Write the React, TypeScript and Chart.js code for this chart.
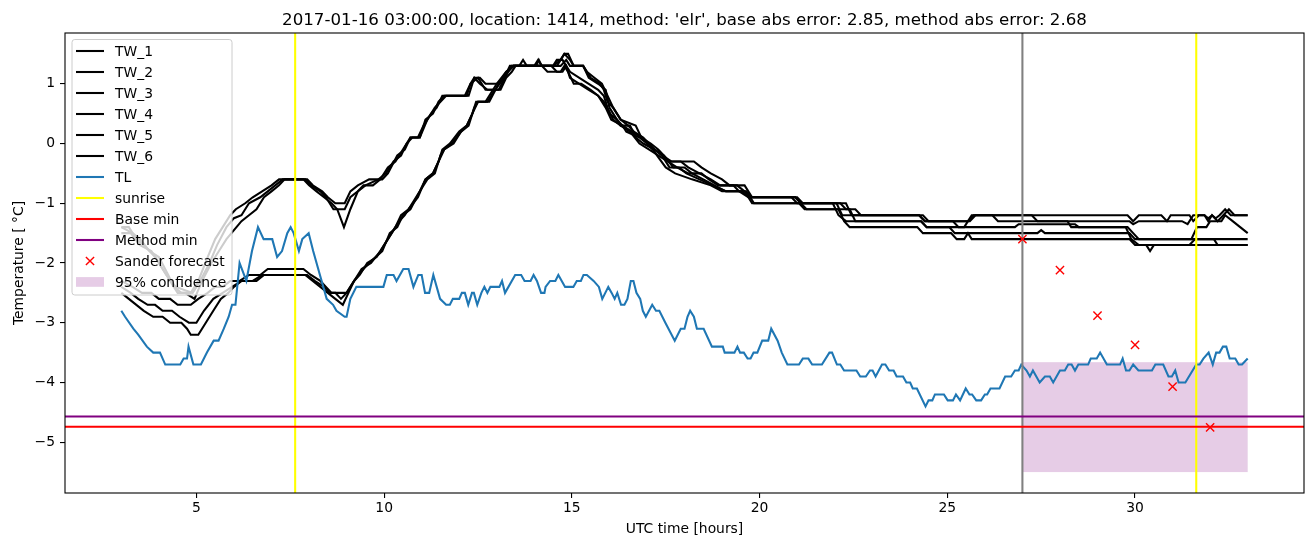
import React, { useEffect, useRef } from "react";
import { Chart, registerables } from "chart.js";

Chart.register(...registerables);

const TITLE =
  "2017-01-16 03:00:00, location: 1414, method: 'elr', base abs error: 2.85, method abs error: 2.68";
const X_LABEL = "UTC time [hours]";
const Y_LABEL = "Temperature [ °C]";
const X_TICKS = [5, 10, 15, 20, 25, 30];
const Y_TICKS = [-5, -4, -3, -2, -1, 0, 1];
const X_MIN = 1.5;
const X_MAX = 34.5;
const Y_MIN = -5.85;
const Y_MAX = 1.85;

// [hour, temperature] knots
const TW_1: [number, number][] = [
  [3.0,-1.4],[3.2,-1.4],[3.4,-1.6],[3.6,-1.7],[3.9,-1.9],[4.1,-2.1],[4.3,-2.3],[4.5,-2.5],[4.7,-2.5],[4.95,-2.6],[5.15,-2.3],[5.4,-2.0],[5.6,-1.8],[5.8,-1.6],[6.0,-1.45],[6.2,-1.3],[6.4,-1.2],[6.6,-1.1],[6.8,-0.9],[7.0,-0.8],[7.2,-0.7],[7.35,-0.6],[7.85,-0.6],[8.0,-0.7],[8.2,-0.8],[8.4,-0.9],[8.6,-1.0],[8.75,-1.1],[8.93,-1.4],[9.1,-1.1],[9.3,-0.8],[9.5,-0.7],[9.85,-0.6],[10.05,-0.5],[10.25,-0.3],[10.45,-0.2],[10.6,0.0],[10.75,0.1],[10.95,0.1],[11.1,0.4],[11.3,0.5],[11.45,0.7],[11.6,0.8],[12.2,0.8],[12.3,1.0],[12.5,1.1],[12.6,1.0],[12.7,0.9],[13.1,0.9],[13.25,1.1],[13.4,1.2],[13.5,1.3],[14.6,1.3],[14.8,1.5],[14.95,1.4],[15.05,1.3],[15.3,1.3],[15.45,1.1],[15.7,1.0],[15.9,0.9],[16.0,0.6],[16.1,0.5],[16.3,0.3],[16.55,0.3],[16.7,0.1],[16.9,0.0],[17.2,-0.1],[17.45,-0.2],[17.7,-0.4],[18.0,-0.4],[18.2,-0.5],[18.5,-0.6],[18.8,-0.7],[19.1,-0.8],[19.5,-0.8],[19.75,-0.9],[21.0,-0.9],[21.15,-1.0],[22.05,-1.0],[22.2,-1.2],[24.25,-1.2],[24.4,-1.3],[25.55,-1.3],[25.7,-1.2],[27.25,-1.2],[27.4,-1.3],[29.85,-1.3],[29.95,-1.35],[30.1,-1.3],[31.25,-1.3],[31.4,-1.35],[31.55,-1.2],[31.85,-1.2],[31.95,-1.25],[32.05,-1.2],[32.15,-1.25],[32.25,-1.2],[32.4,-1.1],[32.55,-1.2],[33.0,-1.2]
];
const TW_2: [number, number][] = [
  [3.0,-1.5],[3.25,-1.5],[3.5,-1.7],[3.8,-1.8],[4.0,-2.0],[4.2,-2.2],[4.45,-2.4],[4.9,-2.5],[5.1,-2.3],[5.35,-2.0],[5.55,-1.7],[5.8,-1.4],[6.0,-1.25],[6.2,-1.2],[6.4,-1.0],[6.7,-0.9],[6.9,-0.8],[7.1,-0.7],[7.3,-0.6],[7.9,-0.6],[8.05,-0.7],[8.3,-0.8],[8.45,-0.9],[8.65,-1.1],[8.95,-1.1],[9.1,-0.9],[9.3,-0.8],[9.45,-0.7],[9.7,-0.7],[9.9,-0.6],[10.1,-0.4],[10.3,-0.3],[10.5,-0.1],[10.7,0.1],[10.9,0.1],[11.05,0.3],[11.25,0.5],[11.4,0.6],[11.55,0.8],[12.25,0.8],[12.4,1.1],[12.55,1.1],[12.7,1.0],[13.0,1.0],[13.2,1.1],[13.35,1.3],[13.6,1.3],[13.7,1.4],[13.8,1.3],[14.05,1.3],[14.12,1.4],[14.2,1.3],[14.7,1.3],[14.85,1.4],[14.95,1.3],[15.3,1.3],[15.5,1.1],[15.75,1.0],[15.85,0.9],[15.95,0.7],[16.1,0.6],[16.3,0.4],[16.7,0.3],[16.85,0.1],[17.1,0.0],[17.3,-0.1],[17.6,-0.3],[18.25,-0.3],[18.45,-0.4],[18.7,-0.5],[19.0,-0.6],[19.2,-0.7],[19.6,-0.7],[19.8,-0.9],[20.95,-0.9],[21.1,-1.0],[22.3,-1.0],[22.45,-1.2],[24.35,-1.2],[24.5,-1.3],[25.6,-1.3],[25.75,-1.2],[26.2,-1.2],[26.35,-1.3],[28.2,-1.3],[28.3,-1.4],[29.8,-1.4],[29.95,-1.5],[30.1,-1.6],[31.5,-1.6],[31.65,-1.4],[31.9,-1.4],[32.0,-1.3],[32.3,-1.3],[32.4,-1.2],[32.6,-1.3],[32.8,-1.4],[33.0,-1.5]
];
const TW_3: [number, number][] = [
  [3.0,-1.4],[3.3,-1.5],[3.5,-1.6],[3.75,-1.8],[4.0,-1.9],[4.25,-2.2],[4.4,-2.4],[4.6,-2.5],[4.85,-2.5],[5.05,-2.3],[5.3,-1.9],[5.5,-1.6],[5.7,-1.4],[5.9,-1.2],[6.05,-1.1],[6.3,-1.0],[6.5,-0.9],[6.75,-0.8],[7.0,-0.7],[7.2,-0.6],[7.95,-0.6],[8.1,-0.7],[8.35,-0.8],[8.5,-0.9],[8.7,-1.0],[8.95,-1.0],[9.1,-0.8],[9.3,-0.7],[9.6,-0.6],[9.95,-0.6],[10.1,-0.5],[10.35,-0.2],[10.55,-0.1],[10.7,0.1],[10.95,0.1],[11.15,0.4],[11.35,0.6],[11.5,0.7],[11.65,0.8],[12.15,0.8],[12.3,1.0],[12.4,1.1],[12.55,1.0],[12.75,0.9],[13.05,0.9],[13.3,1.2],[13.45,1.3],[14.0,1.3],[14.1,1.4],[14.2,1.3],[14.5,1.3],[14.7,1.4],[14.8,1.5],[14.9,1.5],[15.05,1.3],[15.3,1.3],[15.4,1.2],[15.6,1.1],[15.8,1.0],[15.95,0.8],[16.1,0.6],[16.3,0.4],[16.5,0.3],[16.65,0.2],[16.9,0.1],[17.2,-0.1],[17.4,-0.2],[17.65,-0.3],[17.9,-0.3],[18.1,-0.4],[18.4,-0.5],[18.7,-0.6],[18.95,-0.7],[19.3,-0.7],[19.45,-0.8],[19.7,-0.9],[20.95,-0.9],[21.1,-1.0],[22.15,-1.0],[22.3,-1.1],[22.55,-1.1],[22.7,-1.2],[24.25,-1.2],[24.4,-1.3],[25.15,-1.3],[25.3,-1.4],[25.45,-1.4],[25.65,-1.2],[29.8,-1.2],[29.95,-1.3],[30.1,-1.2],[30.7,-1.2],[30.85,-1.3],[30.95,-1.2],[31.45,-1.2],[31.55,-1.3],[31.7,-1.2],[31.85,-1.2],[31.95,-1.3],[32.05,-1.2],[32.2,-1.3],[32.35,-1.2],[32.5,-1.1],[32.65,-1.2],[33.0,-1.2]
];
const TW_4: [number, number][] = [
  [3.0,-2.5],[3.2,-2.6],[3.4,-2.7],[3.6,-2.8],[3.85,-2.9],[4.1,-2.9],[4.3,-3.0],[4.6,-3.0],[4.75,-3.1],[4.85,-3.2],[5.05,-3.2],[5.25,-3.0],[5.45,-2.8],[5.65,-2.6],[5.85,-2.5],[6.0,-2.4],[6.2,-2.3],[6.6,-2.3],[6.8,-2.2],[7.9,-2.2],[8.1,-2.3],[8.3,-2.4],[8.5,-2.5],[8.7,-2.6],[8.9,-2.7],[9.05,-2.5],[9.2,-2.3],[9.4,-2.1],[9.65,-2.0],[9.9,-1.8],[10.1,-1.6],[10.3,-1.4],[10.45,-1.2],[10.65,-1.1],[10.9,-0.9],[11.1,-0.6],[11.3,-0.5],[11.45,-0.3],[11.55,-0.1],[11.75,0.0],[12.0,0.2],[12.2,0.3],[12.35,0.5],[12.45,0.7],[12.75,0.7],[12.95,0.9],[13.2,1.1],[13.4,1.3],[14.45,1.3],[14.6,1.2],[14.75,1.2],[14.85,1.3],[14.95,1.1],[15.2,1.0],[15.45,0.9],[15.7,0.8],[15.9,0.6],[16.05,0.4],[16.35,0.3],[16.45,0.2],[16.8,0.1],[17.0,0.0],[17.15,-0.1],[17.5,-0.4],[17.75,-0.5],[18.2,-0.6],[18.7,-0.7],[19.0,-0.8],[19.6,-0.8],[19.8,-1.0],[21.05,-1.0],[21.2,-1.1],[22.4,-1.1],[22.55,-1.3],[24.3,-1.3],[24.45,-1.4],[25.05,-1.4],[25.2,-1.5],[27.4,-1.5],[27.5,-1.45],[27.6,-1.5],[29.85,-1.5],[30.0,-1.6],[33.0,-1.6]
];
const TW_5: [number, number][] = [
  [3.0,-2.4],[3.25,-2.5],[3.45,-2.6],[3.7,-2.7],[3.9,-2.7],[4.1,-2.8],[4.35,-2.8],[4.55,-2.9],[4.8,-3.0],[5.0,-3.0],[5.2,-2.8],[5.45,-2.6],[5.7,-2.5],[5.95,-2.4],[6.2,-2.3],[6.5,-2.3],[6.75,-2.2],[7.95,-2.2],[8.15,-2.3],[8.4,-2.4],[8.55,-2.5],[8.7,-2.5],[8.85,-2.6],[9.0,-2.5],[9.2,-2.3],[9.45,-2.1],[9.6,-2.0],[9.95,-1.8],[10.15,-1.5],[10.35,-1.4],[10.5,-1.2],[10.7,-1.1],[10.95,-0.8],[11.15,-0.6],[11.35,-0.5],[11.5,-0.2],[11.6,-0.1],[11.8,0.0],[12.05,0.2],[12.25,0.3],[12.4,0.6],[12.5,0.7],[12.7,0.7],[13.0,1.0],[13.25,1.2],[13.45,1.3],[14.2,1.3],[14.35,1.2],[14.7,1.2],[14.8,1.3],[14.9,1.2],[15.05,1.0],[15.25,1.0],[15.5,0.9],[15.7,0.8],[15.85,0.7],[16.0,0.5],[16.2,0.4],[16.35,0.3],[16.6,0.2],[16.85,0.1],[17.2,-0.1],[17.4,-0.2],[17.6,-0.4],[17.85,-0.4],[18.05,-0.5],[18.4,-0.6],[18.75,-0.7],[19.1,-0.8],[19.65,-0.8],[19.85,-1.0],[21.1,-1.0],[21.25,-1.1],[22.1,-1.1],[22.25,-1.3],[22.4,-1.4],[24.2,-1.4],[24.35,-1.5],[25.1,-1.5],[25.25,-1.6],[25.45,-1.6],[25.55,-1.5],[25.65,-1.6],[29.85,-1.6],[30.0,-1.7],[30.3,-1.7],[30.4,-1.8],[30.5,-1.7],[33.0,-1.7]
];
const TW_6: [number, number][] = [
  [3.0,-2.3],[3.3,-2.4],[3.55,-2.5],[3.8,-2.5],[4.0,-2.6],[4.3,-2.6],[4.5,-2.7],[4.85,-2.7],[5.05,-2.6],[5.3,-2.5],[5.5,-2.4],[5.7,-2.4],[5.9,-2.3],[6.15,-2.3],[6.4,-2.2],[6.7,-2.2],[6.9,-2.1],[7.85,-2.1],[8.05,-2.2],[8.3,-2.3],[8.45,-2.4],[8.6,-2.5],[9.0,-2.5],[9.2,-2.3],[9.35,-2.2],[9.55,-2.0],[9.8,-1.9],[10.0,-1.7],[10.2,-1.5],[10.4,-1.3],[10.55,-1.2],[10.75,-1.0],[10.95,-0.8],[11.1,-0.6],[11.3,-0.5],[11.45,-0.3],[11.6,-0.1],[11.85,0.0],[12.05,0.2],[12.2,0.3],[12.35,0.5],[12.5,0.7],[12.8,0.7],[13.05,1.0],[13.25,1.2],[13.45,1.3],[14.5,1.3],[14.6,1.4],[14.75,1.4],[14.85,1.3],[14.95,1.2],[15.2,1.1],[15.45,1.0],[15.7,0.9],[15.85,0.8],[15.95,0.6],[16.1,0.4],[16.3,0.3],[16.55,0.2],[16.8,0.0],[17.05,-0.1],[17.3,-0.2],[17.55,-0.3],[17.8,-0.4],[18.1,-0.5],[18.45,-0.5],[18.65,-0.6],[18.9,-0.7],[19.4,-0.7],[19.6,-0.8],[19.8,-0.9],[20.85,-0.9],[21.0,-1.0],[21.95,-1.0],[22.1,-1.2],[22.3,-1.3],[24.3,-1.3],[24.45,-1.4],[26.8,-1.4],[26.9,-1.35],[28.4,-1.35],[28.5,-1.4],[29.75,-1.4],[29.9,-1.6],[30.1,-1.7],[31.45,-1.7],[31.6,-1.6],[32.1,-1.6],[32.2,-1.7],[33.0,-1.7]
];
const TL: [number, number][] = [
  [3.0,-2.8],[3.1,-2.9],[3.32,-3.1],[3.45,-3.2],[3.68,-3.4],[3.85,-3.5],[4.03,-3.5],[4.17,-3.7],[4.57,-3.7],[4.66,-3.6],[4.75,-3.6],[4.79,-3.4],[4.92,-3.7],[5.12,-3.7],[5.28,-3.5],[5.46,-3.3],[5.59,-3.3],[5.73,-3.1],[5.86,-2.9],[5.95,-2.7],[6.04,-2.7],[6.15,-2.0],[6.33,-2.3],[6.48,-1.8],[6.64,-1.4],[6.79,-1.6],[7.02,-1.6],[7.15,-1.9],[7.28,-1.8],[7.42,-1.5],[7.51,-1.4],[7.59,-1.5],[7.73,-1.8],[7.82,-1.6],[7.99,-1.5],[8.11,-1.8],[8.29,-2.2],[8.47,-2.6],[8.64,-2.7],[8.73,-2.8],[8.95,-2.9],[9.0,-2.9],[9.1,-2.6],[9.26,-2.4],[9.98,-2.4],[10.07,-2.2],[10.25,-2.2],[10.33,-2.3],[10.51,-2.1],[10.65,-2.1],[10.78,-2.4],[10.91,-2.2],[11.0,-2.2],[11.09,-2.5],[11.2,-2.5],[11.31,-2.2],[11.49,-2.6],[11.65,-2.7],[11.75,-2.7],[11.83,-2.6],[12.0,-2.6],[12.07,-2.5],[12.15,-2.5],[12.24,-2.7],[12.34,-2.5],[12.39,-2.5],[12.48,-2.7],[12.59,-2.5],[12.67,-2.4],[12.75,-2.5],[12.83,-2.4],[13.07,-2.4],[13.14,-2.3],[13.22,-2.5],[13.49,-2.2],[13.65,-2.2],[13.74,-2.3],[13.9,-2.3],[13.98,-2.2],[14.07,-2.3],[14.18,-2.5],[14.27,-2.5],[14.3,-2.4],[14.42,-2.3],[14.56,-2.3],[14.64,-2.2],[14.82,-2.4],[15.04,-2.4],[15.13,-2.3],[15.24,-2.3],[15.31,-2.2],[15.4,-2.2],[15.58,-2.3],[15.72,-2.4],[15.81,-2.6],[15.97,-2.4],[16.06,-2.5],[16.14,-2.6],[16.21,-2.5],[16.31,-2.7],[16.4,-2.7],[16.48,-2.6],[16.57,-2.3],[16.64,-2.3],[16.72,-2.5],[16.82,-2.6],[16.89,-2.8],[16.97,-2.9],[17.14,-2.7],[17.24,-2.8],[17.33,-2.8],[17.49,-3.0],[17.74,-3.3],[17.9,-3.1],[18.0,-3.1],[18.08,-2.9],[18.15,-2.8],[18.25,-2.9],[18.33,-3.1],[18.51,-3.1],[18.73,-3.4],[19.02,-3.4],[19.07,-3.5],[19.33,-3.5],[19.41,-3.4],[19.48,-3.5],[19.58,-3.5],[19.68,-3.6],[19.76,-3.6],[19.84,-3.5],[19.94,-3.5],[20.07,-3.3],[20.23,-3.3],[20.31,-3.1],[20.48,-3.3],[20.59,-3.5],[20.74,-3.7],[21.05,-3.7],[21.15,-3.6],[21.3,-3.6],[21.4,-3.7],[21.66,-3.7],[21.86,-3.5],[21.93,-3.5],[22.06,-3.7],[22.15,-3.7],[22.25,-3.8],[22.58,-3.8],[22.68,-3.9],[22.83,-3.9],[22.94,-3.8],[23.01,-3.8],[23.09,-3.9],[23.26,-3.7],[23.35,-3.7],[23.45,-3.8],[23.57,-3.8],[23.65,-3.9],[23.82,-3.9],[23.91,-4.0],[24.01,-4.0],[24.08,-4.1],[24.19,-4.1],[24.42,-4.4],[24.5,-4.3],[24.6,-4.3],[24.67,-4.2],[24.91,-4.2],[25.01,-4.3],[25.15,-4.3],[25.23,-4.2],[25.34,-4.3],[25.49,-4.1],[25.59,-4.2],[25.66,-4.2],[25.77,-4.3],[25.9,-4.3],[26.0,-4.2],[26.06,-4.2],[26.15,-4.1],[26.39,-4.1],[26.54,-3.9],[26.7,-3.9],[26.8,-3.8],[26.9,-3.8],[26.97,-3.7],[27.11,-3.8],[27.2,-3.9],[27.28,-3.8],[27.46,-4.0],[27.6,-3.9],[27.73,-3.9],[27.82,-4.0],[28.0,-3.8],[28.13,-3.8],[28.22,-3.7],[28.31,-3.7],[28.4,-3.8],[28.49,-3.7],[28.75,-3.7],[28.82,-3.6],[28.98,-3.6],[29.07,-3.5],[29.25,-3.7],[29.6,-3.7],[29.67,-3.6],[29.76,-3.8],[29.85,-3.8],[29.95,-3.7],[30.09,-3.8],[30.45,-3.8],[30.54,-3.7],[30.75,-3.7],[30.89,-3.9],[30.98,-3.9],[31.07,-3.8],[31.16,-4.0],[31.34,-4.0],[31.63,-3.7],[31.72,-3.7],[31.82,-3.6],[31.96,-3.5],[32.07,-3.7],[32.16,-3.5],[32.25,-3.5],[32.34,-3.4],[32.43,-3.4],[32.52,-3.6],[32.67,-3.6],[32.76,-3.7],[32.85,-3.7],[33.0,-3.6]
];

const SUNRISE_HOURS = [7.63, 31.63];
const FORECAST_HOUR = 27;
const BASE_MIN = -4.74;
const METHOD_MIN = -4.57;
const SANDER_HOURS = [27, 28, 29, 30, 31, 32];
const SANDER_TEMPS = [-1.6, -2.12, -2.88, -3.37, -4.07, -4.75];
const CONF_HOURS = [27, 33];
const CONF_RANGE = [-5.5, -3.66];

const FONT = "'DejaVu Sans', sans-serif";
const TL_COLOR = "#1f77b4";
const CONF_COLOR = "rgba(128,0,128,0.2)";
const LW = 2.08;
const TW_SERIES = [TW_1, TW_2, TW_3, TW_4, TW_5, TW_6];

type LegendItem = { label: string; kind: "line" | "x" | "patch"; color: string };
const LEGEND_ITEMS: LegendItem[] = [
  { label: "TW_1", kind: "line", color: "#000000" },
  { label: "TW_2", kind: "line", color: "#000000" },
  { label: "TW_3", kind: "line", color: "#000000" },
  { label: "TW_4", kind: "line", color: "#000000" },
  { label: "TW_5", kind: "line", color: "#000000" },
  { label: "TW_6", kind: "line", color: "#000000" },
  { label: "TL", kind: "line", color: TL_COLOR },
  { label: "sunrise", kind: "line", color: "#ffff00" },
  { label: "Base min", kind: "line", color: "#ff0000" },
  { label: "Method min", kind: "line", color: "#800080" },
  { label: "Sander forecast", kind: "x", color: "#ff0000" },
  { label: "95% confidence", kind: "patch", color: CONF_COLOR },
];

function drawX(ctx: CanvasRenderingContext2D, cx: number, cy: number, r: number) {
  ctx.beginPath();
  ctx.moveTo(cx - r, cy - r);
  ctx.lineTo(cx + r, cy + r);
  ctx.moveTo(cx - r, cy + r);
  ctx.lineTo(cx + r, cy - r);
  ctx.stroke();
}

const overlayPlugin = {
  id: "overlay",
  beforeDatasetsDraw(chart: any) {
    const { ctx, chartArea: a, scales } = chart;
    const x = scales.x, y = scales.y;
    ctx.save();
    ctx.beginPath();
    ctx.rect(a.left, a.top, a.right - a.left, a.bottom - a.top);
    ctx.clip();
    const x0 = x.getPixelForValue(CONF_HOURS[0]);
    const x1 = x.getPixelForValue(CONF_HOURS[1]);
    const y0 = y.getPixelForValue(CONF_RANGE[1]);
    const y1 = y.getPixelForValue(CONF_RANGE[0]);
    ctx.fillStyle = CONF_COLOR;
    ctx.fillRect(x0, y0, x1 - x0, y1 - y0);
    ctx.restore();
  },
  afterDatasetDraw(chart: any, args: any) {
    const ds = chart.data.datasets[args.index];
    if (!ds || ds.label !== "TL") return;
    const { ctx, chartArea: a, scales } = chart;
    const x = scales.x, y = scales.y;
    ctx.save();
    ctx.lineWidth = LW;
    const vline = (v: number, c: string) => {
      const px = x.getPixelForValue(v);
      ctx.strokeStyle = c;
      ctx.beginPath();
      ctx.moveTo(px, a.top);
      ctx.lineTo(px, a.bottom);
      ctx.stroke();
    };
    const hline = (v: number, c: string) => {
      const py = y.getPixelForValue(v);
      ctx.strokeStyle = c;
      ctx.beginPath();
      ctx.moveTo(a.left, py);
      ctx.lineTo(a.right, py);
      ctx.stroke();
    };
    vline(FORECAST_HOUR, "#808080");
    SUNRISE_HOURS.forEach((h) => vline(h, "#ffff00"));
    hline(BASE_MIN, "#ff0000");
    hline(METHOD_MIN, "#800080");
    ctx.restore();
  },
  afterDraw(chart: any) {
    const { ctx, chartArea: a } = chart;
    ctx.save();
    // frame
    ctx.strokeStyle = "#000";
    ctx.lineWidth = 1.1;
    ctx.strokeRect(a.left, a.top, a.right - a.left, a.bottom - a.top);
    // title
    ctx.fillStyle = "#000";
    ctx.textAlign = "center";
    ctx.textBaseline = "alphabetic";
    ctx.font = `16.67px ${FONT}`;
    ctx.fillText(TITLE, (a.left + a.right) / 2, a.top - 8.33);
    // x label
    ctx.font = `13.89px ${FONT}`;
    ctx.fillText(X_LABEL, (a.left + a.right) / 2, a.bottom + 40);
    // y label
    ctx.save();
    ctx.translate(23, (a.top + a.bottom) / 2);
    ctx.rotate(-Math.PI / 2);
    ctx.fillText(Y_LABEL, 0, 0);
    ctx.restore();
    // legend
    const lx = a.left + 7;
    const ly = a.top + 6.5;
    const lw = 160;
    const lh = 255.5;
    const r = 2.8;
    ctx.beginPath();
    ctx.moveTo(lx + r, ly);
    ctx.lineTo(lx + lw - r, ly);
    ctx.quadraticCurveTo(lx + lw, ly, lx + lw, ly + r);
    ctx.lineTo(lx + lw, ly + lh - r);
    ctx.quadraticCurveTo(lx + lw, ly + lh, lx + lw - r, ly + lh);
    ctx.lineTo(lx + r, ly + lh);
    ctx.quadraticCurveTo(lx, ly + lh, lx, ly + lh - r);
    ctx.lineTo(lx, ly + r);
    ctx.quadraticCurveTo(lx, ly, lx + r, ly);
    ctx.closePath();
    ctx.fillStyle = "rgba(255,255,255,0.8)";
    ctx.fill();
    ctx.strokeStyle = "#cccccc";
    ctx.lineWidth = 1;
    ctx.stroke();
    ctx.textAlign = "left";
    ctx.font = `13.89px ${FONT}`;
    LEGEND_ITEMS.forEach((it, i) => {
      const cy = a.top + 18 + 21 * i;
      const hx0 = lx + 4;
      const hx1 = hx0 + 28;
      if (it.kind === "line") {
        ctx.strokeStyle = it.color;
        ctx.lineWidth = LW;
        ctx.beginPath();
        ctx.moveTo(hx0, cy);
        ctx.lineTo(hx1, cy);
        ctx.stroke();
      } else if (it.kind === "x") {
        ctx.strokeStyle = it.color;
        ctx.lineWidth = 1.4;
        drawX(ctx, (hx0 + hx1) / 2, cy, 4.1);
      } else {
        ctx.fillStyle = it.color;
        ctx.fillRect(hx0, cy - 4.9, 28, 9.7);
      }
      ctx.fillStyle = "#000";
      ctx.fillText(it.label, hx1 + 11, cy + 5);
    });
    ctx.restore();
  },
};

const toPts = (arr: [number, number][]) => arr.map(([x, y]) => ({ x, y }));
const minus = (v: number) => String(v).replace("-", "\u2212");

export default function App() {
  const ref = useRef<HTMLCanvasElement>(null);
  useEffect(() => {
    document.body.style.margin = "0";
    const canvas = ref.current;
    if (!canvas) return;
    const datasets: any[] = [
      ...TW_SERIES.map((s, i) => ({
        label: `TW_${i + 1}`,
        data: toPts(s),
        borderColor: "#000000",
        borderWidth: LW,
        pointRadius: 0,
        tension: 0,
        fill: false,
        order: 3,
      })),
      {
        label: "TL",
        data: toPts(TL),
        borderColor: TL_COLOR,
        borderWidth: LW,
        pointRadius: 0,
        tension: 0,
        fill: false,
        order: 2,
      },
      {
        label: "Sander forecast",
        data: SANDER_HOURS.map((h, i) => ({ x: h, y: SANDER_TEMPS[i] })),
        showLine: false,
        pointStyle: "crossRot",
        pointRadius: 5.8,
        pointBorderColor: "#ff0000",
        pointBackgroundColor: "#ff0000",
        pointBorderWidth: 1.4,
        borderColor: "#ff0000",
        order: 1,
      },
    ];
    const tickFont = { family: FONT, size: 13.89 };
    const chart = new Chart(canvas, {
      type: "line",
      data: { datasets },
      options: {
        animation: false,
        responsive: false,
        devicePixelRatio: 1,
        events: [],
        layout: { padding: { top: 33, right: 9, left: 0, bottom: 0 } },
        plugins: { legend: { display: false }, tooltip: { enabled: false }, title: { display: false } },
        scales: {
          x: {
            type: "linear",
            min: X_MIN,
            max: X_MAX,
            afterBuildTicks: (s: any) => {
              s.ticks = X_TICKS.map((v) => ({ value: v }));
            },
            afterFit: (s: any) => {
              s.height = 54;
            },
            grid: { drawOnChartArea: false, drawTicks: true, tickLength: 5, color: "#000", lineWidth: 1.1 },
            border: { display: false },
            ticks: { color: "#000", font: tickFont, padding: 2, maxRotation: 0, autoSkip: false, callback: (v: any) => minus(v) },
          },
          y: {
            type: "linear",
            min: Y_MIN,
            max: Y_MAX,
            afterBuildTicks: (s: any) => {
              s.ticks = Y_TICKS.map((v) => ({ value: v }));
            },
            afterFit: (s: any) => {
              s.width = 65;
            },
            grid: { drawOnChartArea: false, drawTicks: true, tickLength: 5, color: "#000", lineWidth: 1.1 },
            border: { display: false },
            ticks: { color: "#000", font: tickFont, padding: 5, autoSkip: false, callback: (v: any) => minus(v) },
          },
        },
      } as any,
      plugins: [overlayPlugin],
    });
    return () => chart.destroy();
  }, []);
  return (
    <div style={{ position: "absolute", left: 0, top: 0, width: 1313, height: 547, background: "#fff" }}>
      <canvas ref={ref} width={1313} height={547} style={{ display: "block", width: 1313, height: 547 }} />
    </div>
  );
}
